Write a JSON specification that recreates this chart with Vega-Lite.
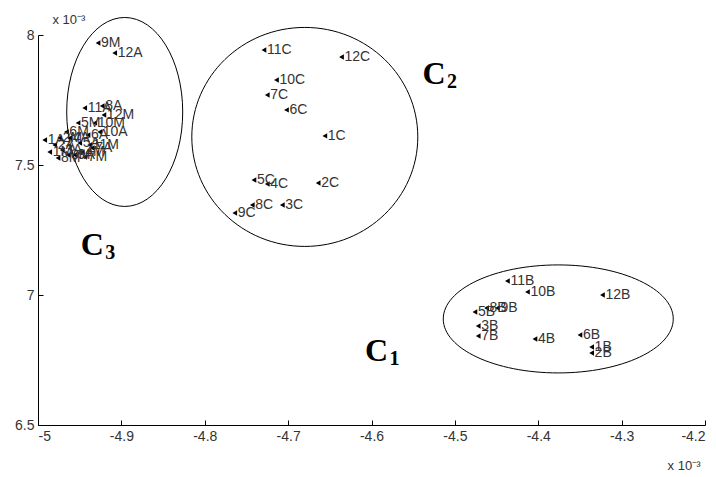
{
  "$schema": "https://vega.github.io/schema/vega-lite/v6.json",
  "width": 667,
  "height": 390,
  "autosize": {"type": "none"},
  "padding": {"left": 38, "top": 35, "right": 11, "bottom": 52},
  "background": "white",
  "config": {
    "view": {"stroke": null},
    "axis": {
      "grid": false,
      "domainColor": "#000",
      "tickColor": "#000",
      "labelColor": "#333",
      "labelFont": "Liberation Sans",
      "labelFontSize": 14,
      "titleFont": "Liberation Sans",
      "titleFontSize": 13,
      "titleFontWeight": "normal",
      "titleColor": "#333"
    }
  },
  "datasets": {
    "pts": [
      {"label": "11C", "x": -4.729, "y": 7.942},
      {"label": "12C", "x": -4.636, "y": 7.915},
      {"label": "10C", "x": -4.714, "y": 7.827},
      {"label": "7C", "x": -4.725, "y": 7.769},
      {"label": "6C", "x": -4.702, "y": 7.712},
      {"label": "1C", "x": -4.656, "y": 7.612},
      {"label": "5C", "x": -4.741, "y": 7.442},
      {"label": "4C", "x": -4.725, "y": 7.427},
      {"label": "2C", "x": -4.664, "y": 7.431},
      {"label": "8C", "x": -4.743, "y": 7.346},
      {"label": "3C", "x": -4.707, "y": 7.346},
      {"label": "9C", "x": -4.764, "y": 7.315},
      {"label": "11B", "x": -4.437, "y": 7.054},
      {"label": "10B", "x": -4.413, "y": 7.012},
      {"label": "12B", "x": -4.323, "y": 7.0},
      {"label": "5B", "x": -4.476, "y": 6.935},
      {"label": "8B", "x": -4.462, "y": 6.95},
      {"label": "9B", "x": -4.449, "y": 6.95},
      {"label": "3B", "x": -4.472, "y": 6.881},
      {"label": "7B", "x": -4.472, "y": 6.842},
      {"label": "4B", "x": -4.404, "y": 6.831},
      {"label": "6B", "x": -4.35, "y": 6.846},
      {"label": "1B", "x": -4.336, "y": 6.8},
      {"label": "2B", "x": -4.336, "y": 6.777},
      {"label": "9M", "x": -4.928, "y": 7.969},
      {"label": "12A", "x": -4.908, "y": 7.931},
      {"label": "11A", "x": -4.944, "y": 7.719},
      {"label": "8A", "x": -4.923, "y": 7.727},
      {"label": "12M", "x": -4.921, "y": 7.692},
      {"label": "5M", "x": -4.952, "y": 7.662},
      {"label": "10M", "x": -4.932, "y": 7.662},
      {"label": "1A", "x": -4.992, "y": 7.596},
      {"label": "2A", "x": -4.98, "y": 7.577},
      {"label": "3A", "x": -4.971, "y": 7.558},
      {"label": "4A", "x": -4.962, "y": 7.604},
      {"label": "5A", "x": -4.95, "y": 7.585},
      {"label": "6A", "x": -4.94, "y": 7.615},
      {"label": "7A", "x": -4.935, "y": 7.565},
      {"label": "9A", "x": -4.956, "y": 7.538},
      {"label": "10A", "x": -4.926, "y": 7.627},
      {"label": "1M", "x": -4.986, "y": 7.55},
      {"label": "2M", "x": -4.974, "y": 7.604},
      {"label": "3M", "x": -4.964, "y": 7.538},
      {"label": "4M", "x": -4.947, "y": 7.55},
      {"label": "6M", "x": -4.966, "y": 7.627},
      {"label": "7M", "x": -4.944, "y": 7.531},
      {"label": "8M", "x": -4.976, "y": 7.527},
      {"label": "11M", "x": -4.938, "y": 7.577}
    ],
    "ellipses": [
      {"cluster": "C1", "x": -4.376, "y": 6.908},
      {"cluster": "C2", "x": -4.68, "y": 7.608},
      {"cluster": "C3", "x": -4.896, "y": 7.704}
    ],
    "clabels": [
      {"letter": "C", "sub": "1", "x": -4.594, "y": 6.785},
      {"letter": "C", "sub": "2", "x": -4.525, "y": 7.85},
      {"letter": "C", "sub": "3", "x": -4.935, "y": 7.192}
    ]
  },
  "encoding": {
    "x": {
      "field": "x", "type": "quantitative",
      "scale": {"domain": [-5, -4.2], "nice": false, "zero": false},
      "axis": {
        "values": [-5, -4.9, -4.8, -4.7, -4.6, -4.5, -4.4, -4.3, -4.2],
        "labelExpr": "datum.value + ''",
        "tickSize": -5,
        "labelPadding": 9,
        "title": "x 10⁻³",
        "titleX": 662,
        "titleY": 40,
        "titleAlign": "right",
        "titleBaseline": "middle",
        "titleAngle": 0
      }
    },
    "y": {
      "field": "y", "type": "quantitative",
      "scale": {"domain": [6.5, 8], "nice": false, "zero": false},
      "axis": {
        "values": [6.5, 7, 7.5, 8],
        "labelExpr": "datum.value + ''",
        "tickSize": -5,
        "labelPadding": 9,
        "title": "x 10⁻³",
        "titleAngle": 0,
        "titleX": 14,
        "titleY": -16,
        "titleAlign": "left",
        "titleBaseline": "middle"
      }
    }
  },
  "layer": [
    {
      "data": {"name": "ellipses"},
      "transform": [{"filter": "datum.cluster == 'C3'"}],
      "mark": {
        "type": "point", "filled": false, "stroke": "#000", "strokeWidth": 1, "opacity": 1,
        "size": 13456,
        "shape": "M1,0C1,0.9,0.5523,1.629,0,1.629C-0.5523,1.629,-1,0.9,-1,0C-1,-0.9,-0.5523,-1.629,0,-1.629C0.5523,-1.629,1,-0.9,1,0Z"
      }
    },
    {
      "data": {"name": "ellipses"},
      "transform": [{"filter": "datum.cluster == 'C2'"}],
      "mark": {
        "type": "point", "filled": false, "stroke": "#000", "strokeWidth": 1, "opacity": 1,
        "size": 51076,
        "shape": "M1,0C1,0.535,0.5523,0.969,0,0.969C-0.5523,0.969,-1,0.535,-1,0C-1,-0.535,-0.5523,-0.969,0,-0.969C0.5523,-0.969,1,-0.535,1,0Z"
      }
    },
    {
      "data": {"name": "ellipses"},
      "transform": [{"filter": "datum.cluster == 'C1'"}],
      "mark": {
        "type": "point", "filled": false, "stroke": "#000", "strokeWidth": 1, "opacity": 1,
        "size": 52900,
        "shape": "M1,0C1,0.2594,0.5523,0.4696,0,0.4696C-0.5523,0.4696,-1,0.2594,-1,0C-1,-0.2594,-0.5523,-0.4696,0,-0.4696C0.5523,-0.4696,1,-0.2594,1,0Z"
      }
    },
    {
      "data": {"name": "pts"},
      "mark": {"type": "point", "shape": "triangle-left", "filled": true, "color": "#000", "size": 30, "opacity": 1}
    },
    {
      "data": {"name": "pts"},
      "mark": {"type": "text", "align": "left", "baseline": "middle", "dx": 3, "font": "Liberation Sans", "fontSize": 14, "color": "#333"},
      "encoding": {"text": {"field": "label"}}
    },
    {
      "data": {"name": "clabels"},
      "mark": {"type": "text", "align": "center", "baseline": "middle", "font": "Liberation Serif", "fontWeight": "bold", "fontSize": 32, "color": "#000"},
      "encoding": {"text": {"field": "letter"}}
    },
    {
      "data": {"name": "clabels"},
      "mark": {"type": "text", "align": "center", "baseline": "middle", "dx": 18, "dy": 8, "font": "Liberation Serif", "fontWeight": "bold", "fontSize": 20, "color": "#000"},
      "encoding": {"text": {"field": "sub"}}
    }
  ]
}
